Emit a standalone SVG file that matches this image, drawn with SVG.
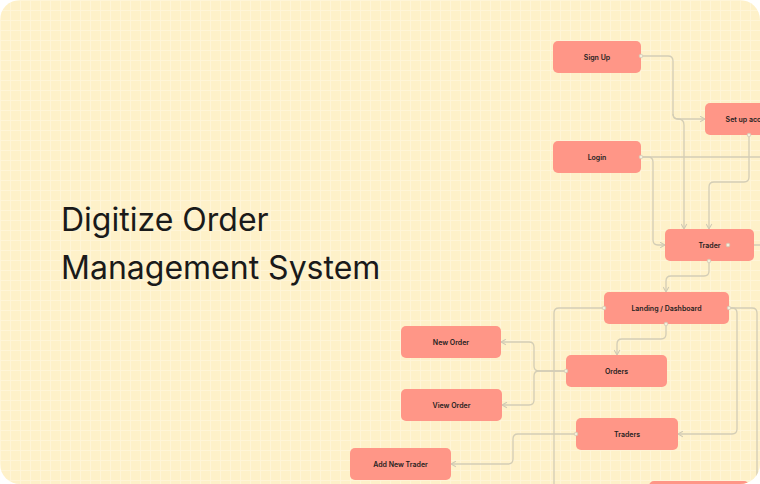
<svg xmlns="http://www.w3.org/2000/svg" width="760" height="484" viewBox="0 0 760 484">
<defs>
<pattern id="grid" width="10" height="10" patternUnits="userSpaceOnUse">
<rect width="10" height="10" fill="#FEF1C9"/>
<path d="M0 0.5H10M0.5 0V10" stroke="#FFF5D8" stroke-width="1" fill="none"/>
</pattern>
<clipPath id="card"><rect x="0" y="0" width="760" height="484" rx="20"/></clipPath>
<marker id="arr" viewBox="0 0 10 10" refX="9" refY="5" markerWidth="7" markerHeight="7" orient="auto" markerUnits="userSpaceOnUse">
<path d="M2 1L9 5L2 9" fill="none" stroke="#CFC9B4" stroke-width="1.5"/>
</marker>
<style>
.node rect{fill:#FF9687;}
.node text{font-family:Inter,"Liberation Sans",sans-serif;font-size:7px;font-weight:600;fill:#1E1E1E;text-anchor:middle;dominant-baseline:central;}
.c{fill:none;stroke:#D3CDB6;stroke-width:1.3;}
.a{marker-end:url(#arr);}
.dot{fill:#F4EEDC;stroke:#D3CDB6;stroke-width:0.8;}
.title{font-family:Inter,"Liberation Sans",sans-serif;font-size:32px;fill:#1A1A1A;}
</style>
</defs>
<rect x="0" y="0" width="760" height="484" fill="#FFFFFF"/>
<g clip-path="url(#card)">
<rect x="0" y="0" width="760" height="484" fill="url(#grid)"/>
<g id="connectors">
<path class="c a" d="M641,56 H668 Q673,56 673,61 V114 Q673,119 678,119 H705"/>
<path class="c a" d="M673,114 Q673,119 678,119 Q684,119 684,125 V229"/>
<path class="c" d="M641,157 H760"/>
<path class="c a" d="M641,157 H648 Q653,157 653,162 V240 Q653,245 658,245 H665"/>
<path class="c a" d="M749,135 V177 Q749,182 744,182 H714 Q709,182 709,187 V229"/>
<path class="c" d="M728,245 H760"/>
<path class="c a" d="M709,261 V271 Q709,276 704,276 H671 Q666,276 666,281 V292"/>
<path class="c" d="M604,308 H559 Q554,308 554,313 V484"/>
<path class="c" d="M729,308 H752 Q757,308 757,313 V484"/>
<path class="c a" d="M729,308 H732 Q737,308 737,313 V429 Q737,434 732,434 H678"/>
<path class="c a" d="M666,324 V334 Q666,339 661,339 H622 Q617,339 617,344 V355"/>
<path class="c a" d="M566,371 H539 Q534,371 534,366 V347 Q534,342 529,342 H501"/>
<path class="c a" d="M566,371 H539 Q534,371 534,376 V400 Q534,405 529,405 H502"/>
<path class="c a" d="M576,434 H518 Q513,434 513,439 V459 Q513,464 508,464 H451"/>
</g>
<g id="node-signup" class="node"><rect x="553" y="41" width="88" height="32" rx="5"/><text x="597" y="57">Sign Up</text></g>
<g id="node-setup" class="node"><rect x="705" y="103" width="92" height="32" rx="5"/><text x="751" y="119">Set up account</text></g>
<g id="node-login" class="node"><rect x="553" y="141" width="88" height="32" rx="5"/><text x="597" y="157">Login</text></g>
<g id="node-trader" class="node"><rect x="665" y="229" width="89" height="32" rx="5"/><text x="709.5" y="245">Trader</text></g>
<g id="node-landing" class="node"><rect x="604" y="292" width="125" height="32" rx="5"/><text x="666.5" y="308">Landing / Dashboard</text></g>
<g id="node-neworder" class="node"><rect x="401" y="326" width="100" height="32" rx="5"/><text x="451" y="342">New Order</text></g>
<g id="node-orders" class="node"><rect x="566" y="355" width="101" height="32" rx="5"/><text x="616.5" y="371">Orders</text></g>
<g id="node-vieworder" class="node"><rect x="401" y="389" width="101" height="32" rx="5"/><text x="451.5" y="405">View Order</text></g>
<g id="node-traders" class="node"><rect x="576" y="418" width="102" height="32" rx="5"/><text x="627" y="434">Traders</text></g>
<g id="node-addtrader" class="node"><rect x="350" y="448" width="101" height="32" rx="5"/><text x="400.5" y="464">Add New Trader</text></g>
<g id="node-bottom" class="node"><rect x="649" y="481" width="100" height="32" rx="5"/></g>
<g id="dots">
<circle class="dot" cx="641" cy="56" r="1.8"/>
<circle class="dot" cx="641" cy="157" r="1.8"/>
<circle class="dot" cx="749" cy="135" r="1.8"/>
<circle class="dot" cx="728" cy="245" r="1.8"/>
<circle class="dot" cx="709" cy="261" r="1.8"/>
<circle class="dot" cx="604" cy="308" r="1.8"/>
<circle class="dot" cx="729" cy="308" r="1.8"/>
<circle class="dot" cx="666" cy="324" r="1.8"/>
<circle class="dot" cx="566" cy="371" r="1.8"/>
<circle class="dot" cx="576" cy="434" r="1.8"/>
</g>
<g id="title">
<text class="title" x="61" y="231">Digitize Order</text>
<text class="title" x="61" y="279">Management System</text>
</g>
</g>
</svg>
